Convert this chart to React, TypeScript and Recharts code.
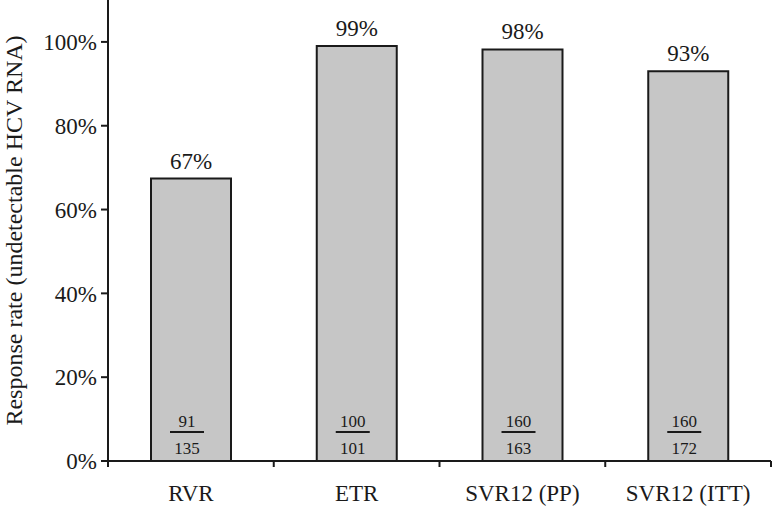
import React from 'react';
import { BarChart, Bar, XAxis, YAxis, LabelList, Label } from 'recharts';

const categories = ['RVR', 'ETR', 'SVR12 (PP)', 'SVR12 (ITT)'];
const rates = [67.4, 99.0, 98.2, 93.0];
const rateLabels = ['67%', '99%', '98%', '93%'];
const numerators = [91, 100, 160, 160];
const denominators = [135, 101, 163, 172];
const yTicks = [0, 20, 40, 60, 80, 100];

const data = categories.map((name, i) => ({
    name,
    rate: rates[i],
    label: rateLabels[i],
    num: numerators[i],
    den: denominators[i],
}));

const W = 772;
const H = 507;
const LEFT = 108;
const RIGHT = 1;
const XH = 46;
const AXIS_Y = H - XH;
const BAND = (W - LEFT - RIGHT) / categories.length;
const FONT = '"Liberation Serif", "DejaVu Serif", serif';
const INK = '#1a1a1a';

// category label plus the boundary tick marks between categories
const CategoryTick = (props: any) => {
    const { x, payload, index } = props;
    return (
        <g>
            {index === 0 && (
                <line x1={x - BAND / 2} x2={x - BAND / 2} y1={AXIS_Y} y2={AXIS_Y + 6} stroke={INK} strokeWidth={2} />
            )}
            <line x1={x + BAND / 2} x2={x + BAND / 2} y1={AXIS_Y} y2={AXIS_Y + 6} stroke={INK} strokeWidth={2} />
            <text x={x} y={AXIS_Y + 40} textAnchor="middle" fontFamily={FONT} fontSize={23} fill={INK}>
                {payload.value}
            </text>
        </g>
    );
};

// n / N fraction drawn near the bottom of each bar
const Fraction = (props: any) => {
    const { x, width, index } = props;
    const cx = x + width / 2 - 4;
    return (
        <g fontFamily={FONT} fontSize={17} fill={INK}>
            <text x={cx} y={AXIS_Y - 34} textAnchor="middle">{numerators[index]}</text>
            <line x1={cx - 17} x2={cx + 17} y1={AXIS_Y - 29} y2={AXIS_Y - 29} stroke={INK} strokeWidth={2} />
            <text x={cx} y={AXIS_Y - 7} textAnchor="middle">{denominators[index]}</text>
        </g>
    );
};

const App: React.FC = () => {
    return (
        <div style={{ position: 'absolute', left: 0, top: 0, background: '#fff' }}>
            <BarChart width={W} height={H} data={data} margin={{ top: 0, right: RIGHT, left: 0, bottom: 0 }} barCategoryGap={0}>
                <XAxis
                    dataKey="name"
                    height={XH}
                    axisLine={{ stroke: INK, strokeWidth: 2 }}
                    tickLine={false}
                    tick={<CategoryTick />}
                    interval={0}
                />
                <YAxis
                    width={LEFT}
                    domain={[0, 110]}
                    ticks={yTicks}
                    allowDataOverflow
                    tickFormatter={(v) => `${v}%`}
                    axisLine={{ stroke: INK, strokeWidth: 2 }}
                    tickLine={{ stroke: INK, strokeWidth: 2 }}
                    tickSize={7}
                    tickMargin={4}
                    tick={{ fontFamily: FONT, fontSize: 23, fill: INK }}
                >
                    <Label
                        value="Response rate (undetectable HCV RNA)"
                        angle={-90}
                        position="insideLeft"
                        offset={13}
                        style={{ fontFamily: FONT, fontSize: 24, fill: INK, textAnchor: 'middle' }}
                    />
                </YAxis>
                <Bar dataKey="rate" fill="#c6c6c6" stroke={INK} strokeWidth={2} barSize={80} isAnimationActive={false}>
                    <LabelList
                        dataKey="label"
                        position="top"
                        offset={10}
                        style={{ fontFamily: FONT, fontSize: 23, fill: INK }}
                    />
                    <LabelList dataKey="num" content={<Fraction />} />
                </Bar>
            </BarChart>
        </div>
    );
};

export default App;
